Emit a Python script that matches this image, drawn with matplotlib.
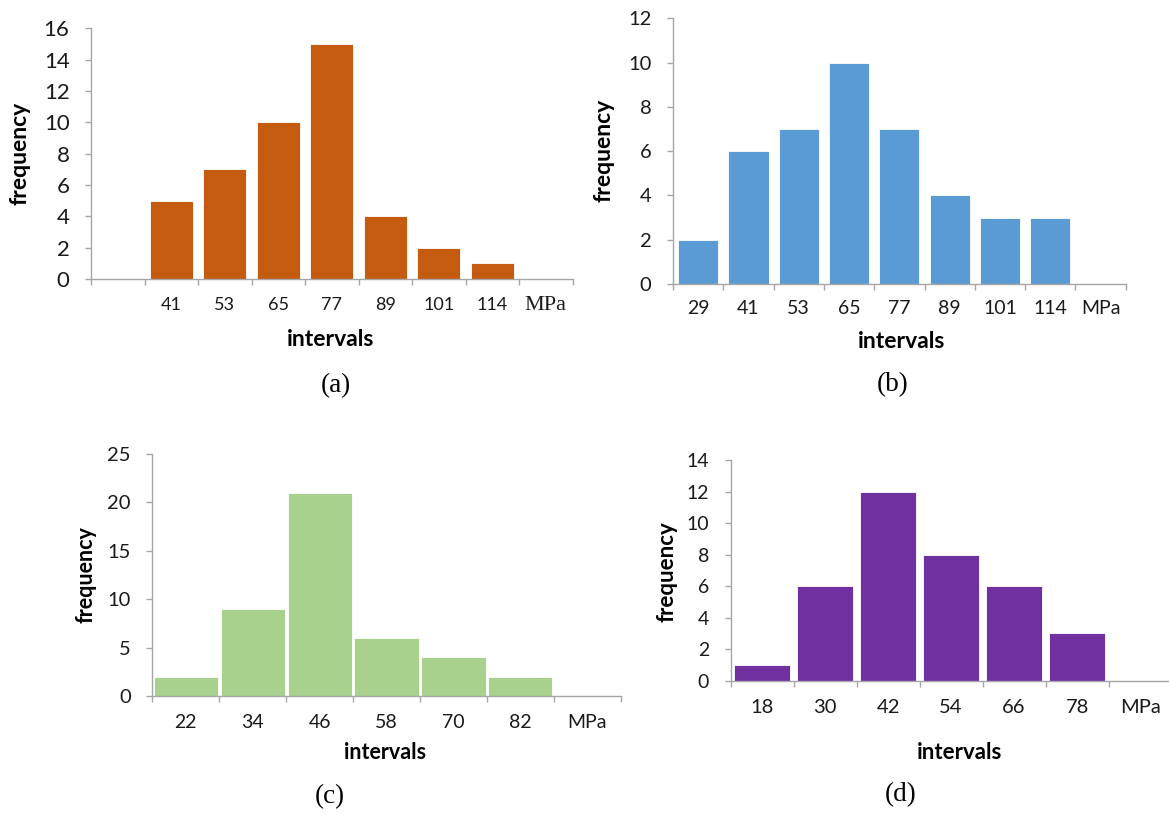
import matplotlib
matplotlib.use("Agg")
import matplotlib.pyplot as plt
import numpy as np

W, H = 1169, 814
DPI = 100

# ---------------- data ----------------
a_labels = ['', '41', '53', '65', '77', '89', '101', '114', 'MPa']
a_values = [None, 5, 7, 10, 15, 4, 2, 1, None]

b_labels = ['29', '41', '53', '65', '77', '89', '101', '114', 'MPa']
b_values = [2, 6, 7, 10, 7, 4, 3, 3, None]

c_labels = ['22', '34', '46', '58', '70', '82', 'MPa']
c_values = [2, 9, 21, 6, 4, 2, None]

d_labels = ['18', '30', '42', '54', '66', '78', 'MPa']
d_values = [1, 6, 12, 8, 6, 3, None]

a_yticks = [0, 2, 4, 6, 8, 10, 12, 14, 16]
b_yticks = [0, 2, 4, 6, 8, 10, 12]
c_yticks = [0, 5, 10, 15, 20, 25]
d_yticks = [0, 2, 4, 6, 8, 10, 12, 14]

panels = [
    dict(labels=a_labels, values=a_values, yticks=a_yticks, color='#C55A11',
         box=(91, 572.5, 279, 28.3), width=0.81, ytick_fs=16, xtick_fs=13,
         mpa_serif=True, xlab_y=26, xlabel=(331, 340), ylabel=(20, 153),
         tag='(a)', tagpos=(336, 386), lab_fs=16.5),
    dict(labels=b_labels, values=b_values, yticks=b_yticks, color='#5B9BD5',
         box=(673, 1125.7, 284, 18.3), width=0.80, ytick_fs=14.5, xtick_fs=14,
         mpa_serif=False, xlab_y=25, xlabel=(902, 341.5), ylabel=(604, 150),
         tag='(b)', tagpos=(893, 385), lab_fs=16.5),
    dict(labels=c_labels, values=c_values, yticks=c_yticks, color='#A9D18E',
         box=(152.4, 620.7, 696, 454), width=0.96, ytick_fs=14.5, xtick_fs=14,
         mpa_serif=False, xlab_y=26, xlabel=(385, 752.5), ylabel=(86, 575),
         tag='(c)', tagpos=(330, 797), lab_fs=15.5),
    dict(labels=d_labels, values=d_values, yticks=d_yticks, color='#7030A0',
         box=(730.6, 1171.6, 680.7, 460), width=0.88, ytick_fs=14, xtick_fs=14.5,
         mpa_serif=False, xlab_y=27, xlabel=(960, 752.5), ylabel=(667, 572),
         tag='(d)', tagpos=(901, 795), lab_fs=16),
]

SANS = 'Lato'
SERIF = 'Liberation Serif'
AXC = '#A6A6A6'
TXT = '#1a1a1a'

fig = plt.figure(figsize=(W / DPI, H / DPI), dpi=DPI)
fig.patch.set_facecolor('white')


def fx(x):
    return x / W


def fy(y):
    return 1 - y / H


for p in panels:
    x0, x1, yb, yt = p['box']
    ax = fig.add_axes([fx(x0), fy(yb), fx(x1) - fx(x0), fy(yt) - fy(yb)])
    ax.set_facecolor('none')
    n = len(p['labels'])
    pos = np.arange(n) + 0.5
    vals = p['values']
    bx = [pos[i] for i in range(n) if vals[i] is not None]
    bv = [vals[i] for i in range(n) if vals[i] is not None]
    ax.bar(bx, bv, width=p['width'], color=p['color'], edgecolor='white',
           linewidth=0.6, zorder=2)
    ax.set_xlim(0, n)
    ax.set_ylim(0, p['yticks'][-1])
    for s in ['top', 'right']:
        ax.spines[s].set_visible(False)
    for s in ['left', 'bottom']:
        ax.spines[s].set_color(AXC)
        ax.spines[s].set_linewidth(1.0)
        ax.spines[s].set_zorder(3)
    ax.set_xticks(np.arange(n + 1))
    ax.set_xticklabels([])
    ax.tick_params(axis='x', direction='out', length=4.2, width=1.0, color=AXC)
    ax.set_yticks(p['yticks'])
    ax.set_yticklabels([str(t) for t in p['yticks']], fontfamily=SANS,
                       fontsize=p['ytick_fs'], color=TXT)
    ax.tick_params(axis='y', direction='out', length=4.5, width=1.0, color=AXC,
                   pad=11)
    ax_h = yb - yt
    for i, lab in enumerate(p['labels']):
        if not lab:
            continue
        fam = SERIF if (lab == 'MPa' and p['mpa_serif']) else SANS
        fs = p['xtick_fs'] + (3 if fam == SERIF else 0)
        ax.text(pos[i], -p['xlab_y'] / ax_h, lab, transform=ax.get_xaxis_transform(),
                ha='center', va='center', fontsize=fs, fontfamily=fam, color=TXT,
                clip_on=False)
    lx, ly = p['xlabel']
    fig.text(fx(lx), fy(ly), 'intervals', ha='center', va='center',
             fontsize=p['lab_fs'], fontweight='bold', fontfamily=SANS, color='black')
    lx, ly = p['ylabel']
    fig.text(fx(lx), fy(ly), 'frequency', ha='center', va='center', rotation=90,
             fontsize=p['lab_fs'], fontweight='bold', fontfamily=SANS, color='black')
    tx, ty = p['tagpos']
    fig.text(fx(tx), fy(ty), p['tag'], ha='center', va='center', fontsize=19.5,
             fontfamily=SERIF, color='black')

fig.savefig('out.png', dpi=DPI, facecolor='white')
